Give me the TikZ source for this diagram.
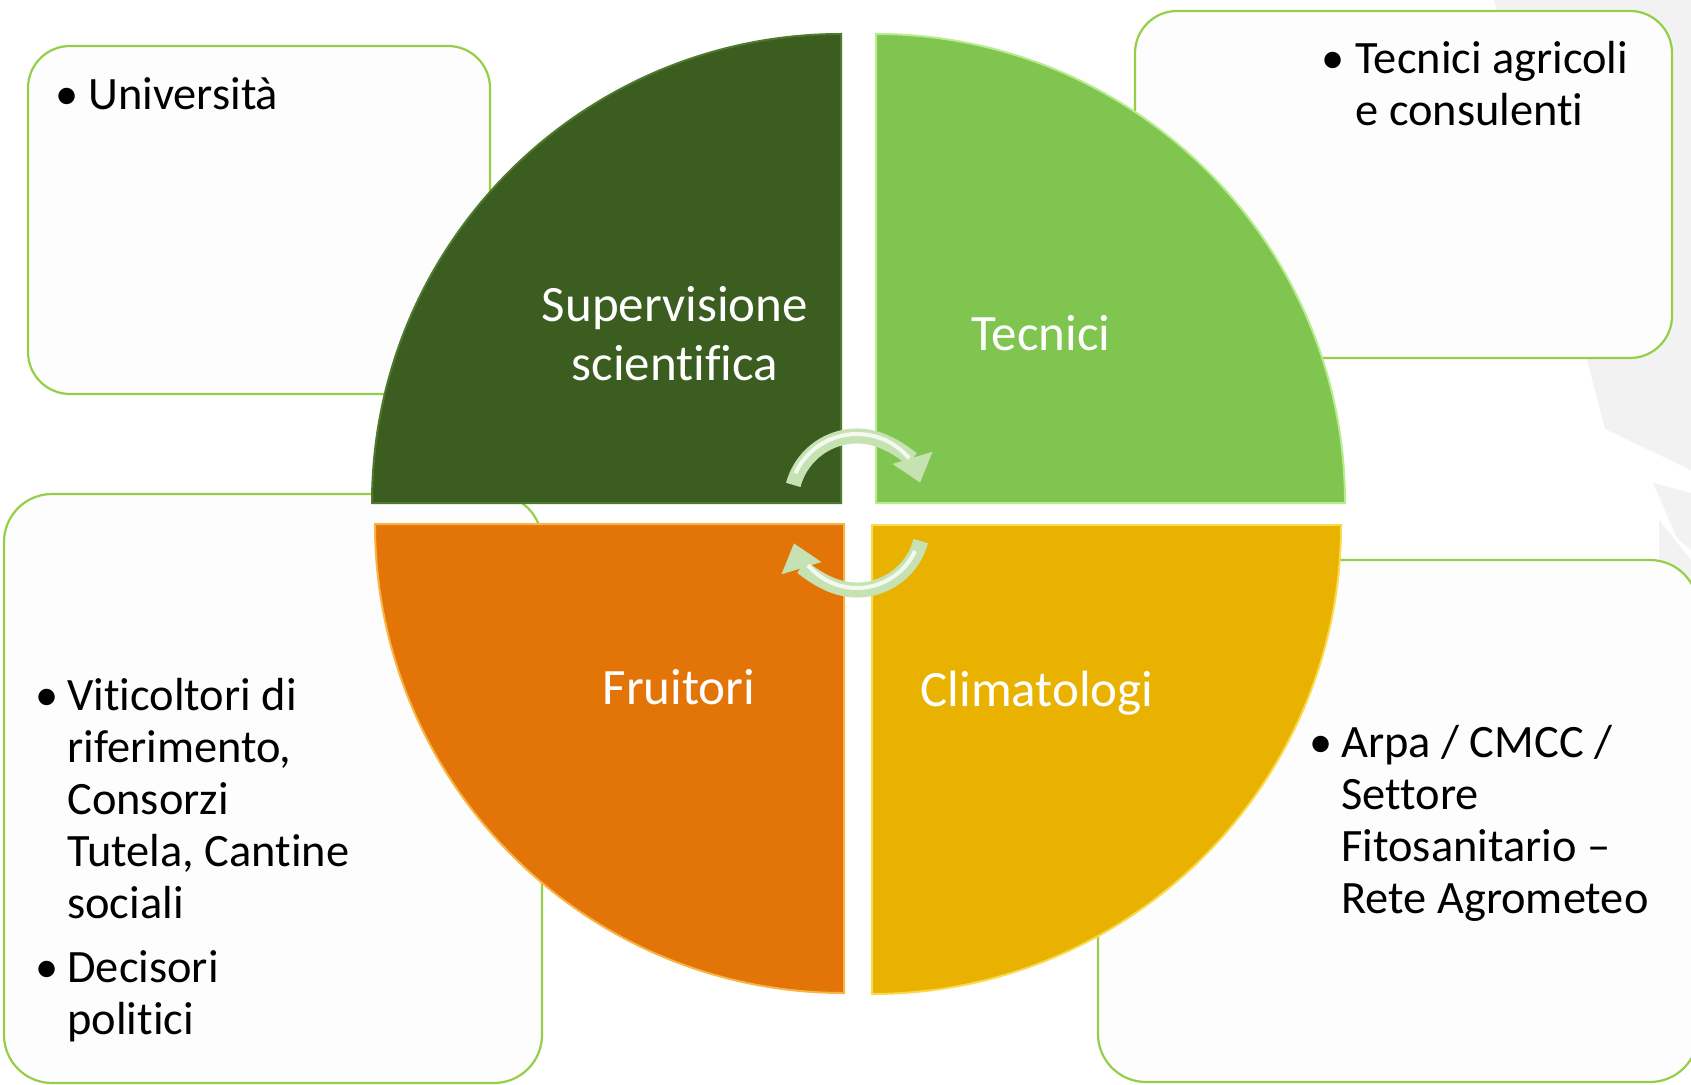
\documentclass[tikz,border=0pt]{standalone}
\usepackage{fontspec}
\setmainfont{Carlito}[Ligatures={NoCommon}]
\usetikzlibrary{arrows.meta}

\definecolor{sciegreen}{HTML}{3B5D1F}
\definecolor{sciehl}{HTML}{4E7A2D}
\definecolor{tecngreen}{HTML}{80C550}
\definecolor{tecnhl}{HTML}{B8EC8E}
\definecolor{fruiorange}{HTML}{E37508}
\definecolor{fruihl}{HTML}{F8B445}
\definecolor{climyellow}{HTML}{E9B200}
\definecolor{climhl}{HTML}{F9DA4C}
\definecolor{boxline}{HTML}{96CE48}
\definecolor{boxfill}{HTML}{FDFDFD}
\definecolor{bggrey}{HTML}{F2F2F2}
\definecolor{arrowgreen}{HTML}{C6E2B3}

\begin{document}
\begin{tikzpicture}[x=0.5pt,y=-0.5pt,
    infobox/.style={draw=boxline,fill=boxfill,line width=1.1pt,rounded corners=21pt},
    quarter/.style={line width=1pt},
    bul/.style={anchor=base west,inner sep=0pt,font=\fontsize{23.2pt}{26pt}\selectfont},
    txt/.style={anchor=base west,inner sep=0pt,align=left,font=\fontsize{23.2pt}{26pt}\selectfont},
    lbl/.style={anchor=base,inner sep=0pt,align=center,text=white,font=\fontsize{25.5pt}{29pt}\selectfont},
    cycarrow/.style={line width=7.5pt,draw=arrowgreen,-{Triangle[length=13pt,width=20pt]}}]

    % Background
    \useasboundingbox (0,0) rectangle (1691,1085);
    \fill[white] (0,0) rectangle (1691,1085);
    \fill[bggrey] (1494,0) -- (1605,429) -- (1691,470) -- (1691,0) -- cycle;
    \fill[bggrey] (1653,483) -- (1691,493) -- (1691,550) -- (1677,538) -- cycle;
    \fill[bggrey] (1659,520) -- (1691,560) -- (1691,600) -- (1659,587) -- cycle;

    % The boxes
    \draw[infobox] (28,46) rectangle (490,394);
    \draw[infobox] (1135,11) rectangle (1672,358);
    \draw[infobox,rounded corners=24pt] (4,494) rectangle (542,1083);
    \draw[infobox,rounded corners=24pt] (1098,560) rectangle (1698,1082);

    % The four quarters
    \filldraw[quarter,fill=sciegreen,draw=sciehl] (841,503) -- ++(-469,0) arc (180:270:469) -- cycle;
    \filldraw[quarter,fill=tecngreen,draw=tecnhl] (876,503) -- ++(469,0) arc (0:-90:469) -- cycle;
    \filldraw[quarter,fill=fruiorange,draw=fruihl] (844,524) -- ++(-469,0) arc (180:90:469) -- cycle;
    \filldraw[quarter,fill=climyellow,draw=climhl] (872,525) -- ++(469,0) arc (0:90:469) -- cycle;

    % Circular arrows
    \draw[cycarrow] (857,502) ++(195:66) arc (195:343:66);
    \draw[white,line width=2pt,opacity=0.8] (857,502) ++(205:68) arc (205:320:68);
    \draw[cycarrow] (857,524) ++(15:66) arc (15:163:66);
    \draw[white,line width=2pt,opacity=0.8] (857,524) ++(25:64) arc (25:140:64);

    % Labels of the quarters (base = last line)
    \node[lbl] (scie) at (675,380) {Supervisione\\scientifica};
    \node[lbl] (tecn) at (1041,351) {Tecnici};
    \node[lbl] (frui) at (679,704) {Fruitori};
    \node[lbl] (clim) at (1037,706) {Climatologi};

    % Bullets in the boxes
    \node[bul] (b1) at (55,110) {\textbullet};
    \node[txt] (univ) at (88,110) {Università};
    \node[bul] (b2) at (1321,74) {\textbullet};
    \node[txt] (agri) at (1355,126) {Tecnici agricoli\\e consulenti};
    \node[bul] (b3) at (35,710) {\textbullet};
    \node[txt] (viti) at (67,918) {Viticoltori di\\riferimento,\\Consorzi\\Tutela, Cantine\\sociali};
    \node[bul] (b4) at (35,982) {\textbullet};
    \node[txt] (deci) at (67,1034) {Decisori\\politici};
    \node[bul] (b5) at (1309,757) {\textbullet};
    \node[txt] (arpa) at (1341,913) {Arpa / CMCC /\\Settore\\Fitosanitario –\\Rete Agrometeo};

\end{tikzpicture}
\end{document}
